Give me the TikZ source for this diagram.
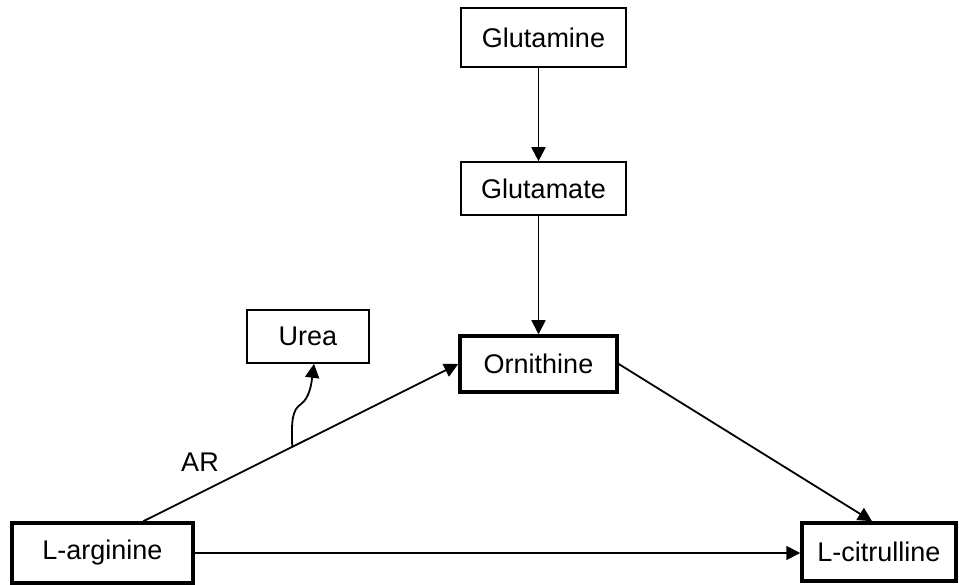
\documentclass[tikz,border=0pt]{standalone}
\usepackage{fontspec}
\setmainfont{Liberation Sans}
\usetikzlibrary{arrows.meta,calc}
\begin{document}
\begin{tikzpicture}[x=1pt,y=-1pt,
  font=\fontsize{27}{31}\selectfont,
  thinbox/.style={draw,line width=1.6pt,inner sep=0pt,align=center},
  thickbox/.style={draw,line width=3.5pt,inner sep=0pt,align=center},
  arr/.style={line width=1.8pt,-{Triangle[length=14pt,width=14pt]}}]
\useasboundingbox[fill=white] (0,0) rectangle (959,585);
\node[thinbox,minimum width=165pt,minimum height=59pt] (gln) at (543.5,37.5) {Glutamine};
\node[thinbox,minimum width=165pt,minimum height=53pt] (glu) at (543.5,188.5) {Glutamate};
\node[thickbox,minimum width=157pt,minimum height=56pt] (orn) at (538.5,364) {Ornithine};
\node[thinbox,minimum width=122pt,minimum height=53pt] (urea) at (308,336.5) {Urea};
\node[thickbox,minimum width=181pt,minimum height=60pt] (arg) at (102.5,553) {L-arginine};
\node[thickbox,minimum width=154pt,minimum height=58pt] (cit) at (879,552) {L-citrulline};
\node (ar) at (200,462) {AR};
\coordinate (argtop) at ($(arg.north west)+(133,0)$);
\coordinate (cittop) at ($(cit.north)+(-7,0)$);
\coordinate (ureabot) at ($(urea.south)+(6,0)$);
\draw[arr] (gln.south -| orn.north) -- (glu.north -| orn.north);
\draw[arr] (glu.south -| orn.north) -- (orn.north);
\draw[arr] (argtop) -- (orn.west);
\draw[arr] (orn.east) -- (cittop);
\draw[arr] (arg.east) -- (arg.east -| cit.west);
\coordinate (branch) at ($(argtop)!0.473!(orn.west)$);
\draw[arr] (branch) .. controls ($(branch)+(-1,-27)$) and ($(branch)+(0,-37)$) .. ($(branch)+(9,-43)$)
  .. controls ($(branch)+(17,-49)$) and ($(branch)+(19,-62)$) .. (ureabot);
\end{tikzpicture}
\end{document}
